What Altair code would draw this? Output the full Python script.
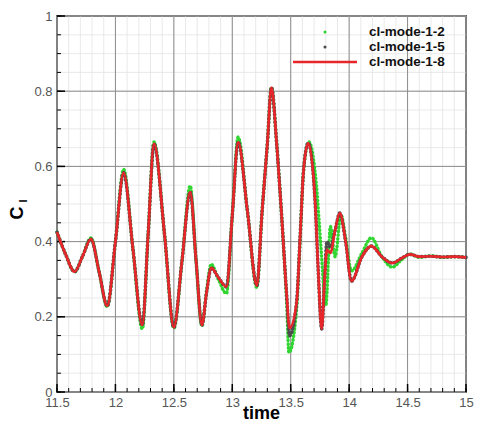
import altair as alt
import pandas as pd

# ---- data ----
time_main = [11.50, 11.575, 11.65, 11.72, 11.79, 11.86, 11.93, 12.00, 12.07, 12.15,
             12.23, 12.28, 12.33, 12.42, 12.50, 12.57, 12.64, 12.69, 12.74, 12.78,
             12.82, 12.88, 12.95, 13.00, 13.05, 13.13, 13.21, 13.255, 13.30, 13.335,
             13.38, 13.42, 13.465, 13.49, 13.55, 13.58, 13.61, 13.65, 13.71, 13.735,
             13.765, 13.79, 13.81, 13.84, 13.88, 13.92, 13.97, 14.02, 14.11, 14.19,
             14.28, 14.37, 14.45, 14.52, 14.60, 14.70, 14.80, 14.90, 15.00]

cl_mode_1_8 = [0.425, 0.365, 0.32, 0.362, 0.407, 0.32, 0.229, 0.40, 0.583, 0.38,
               0.178, 0.42, 0.66, 0.42, 0.172, 0.35, 0.532, 0.35, 0.178, 0.265,
               0.33, 0.305, 0.28, 0.47, 0.665, 0.48, 0.283, 0.48, 0.66, 0.81,
               0.66, 0.48, 0.26, 0.17, 0.237, 0.41, 0.59, 0.662, 0.50, 0.325,
               0.168, 0.30, 0.378, 0.37, 0.43, 0.476, 0.40, 0.295, 0.36, 0.388,
               0.36, 0.343, 0.356, 0.366, 0.36, 0.361, 0.359, 0.36, 0.358]

cl_mode_1_5 = [0.425, 0.365, 0.32, 0.362, 0.407, 0.32, 0.229, 0.40, 0.583, 0.38,
               0.178, 0.42, 0.66, 0.42, 0.172, 0.35, 0.532, 0.35, 0.178, 0.265,
               0.33, 0.305, 0.28, 0.47, 0.665, 0.48, 0.283, 0.48, 0.66, 0.81,
               0.66, 0.48, 0.26, 0.15, 0.237, 0.41, 0.59, 0.662, 0.50, 0.325,
               0.168, 0.30, 0.40, 0.385, 0.43, 0.476, 0.40, 0.295, 0.36, 0.388,
               0.36, 0.343, 0.356, 0.366, 0.36, 0.361, 0.359, 0.36, 0.358]

time_green = [11.50, 11.575, 11.65, 11.72, 11.79, 11.86, 11.93, 12.00, 12.07, 12.15,
              12.23, 12.28, 12.33, 12.42, 12.50, 12.57, 12.64, 12.69, 12.74, 12.78,
              12.82, 12.88, 12.95, 13.00, 13.05, 13.13, 13.21, 13.255, 13.30, 13.335,
              13.38, 13.42, 13.465, 13.485, 13.55, 13.58, 13.61, 13.655, 13.72, 13.76,
              13.80, 13.84, 13.88, 13.93, 13.97, 14.02, 14.11, 14.19, 14.28, 14.37,
              14.45, 14.52, 14.60, 14.70, 14.80, 14.90, 15.00]

cl_mode_1_2 = [0.425, 0.365, 0.32, 0.362, 0.41, 0.32, 0.227, 0.40, 0.592, 0.38,
               0.168, 0.42, 0.665, 0.42, 0.17, 0.35, 0.548, 0.35, 0.175, 0.27,
               0.34, 0.30, 0.262, 0.47, 0.678, 0.48, 0.278, 0.48, 0.66, 0.81,
               0.66, 0.48, 0.24, 0.105, 0.22, 0.40, 0.59, 0.665, 0.55, 0.38,
               0.23, 0.44, 0.36, 0.47, 0.41, 0.322, 0.37, 0.41, 0.36, 0.332,
               0.352, 0.367, 0.358, 0.362, 0.358, 0.36, 0.358]

series_names = ["cl-mode-1-2", "cl-mode-1-5", "cl-mode-1-8"]
series_colors = ["#2fd62f", "#4d4d4d", "#e8262a"]

x_major = [11.5, 12, 12.5, 13, 13.5, 14, 14.5, 15]
y_major = [0, 0.2, 0.4, 0.6, 0.8, 1.0]
x_minor = [round(11.5 + 0.1 * i, 2) for i in range(36)]
y_minor = [round(0.05 * i, 2) for i in range(21)]

W, H = 409, 376
FONT = "Liberation Sans"

xs = alt.Scale(domain=[11.5, 15], nice=False, zero=False)
ys = alt.Scale(domain=[0, 1], nice=False, zero=False)
xaxis = alt.Axis(values=x_major, format="~g", grid=False, ticks=False, domain=False,
                 labelFontSize=13, labelColor="#555555", labelFont=FONT,
                 labelPadding=4, labelFlush=False, title=None)
yaxis = alt.Axis(values=y_major, format="~g", grid=False, ticks=False, domain=False,
                 labelFontSize=13, labelColor="#555555", labelFont=FONT,
                 labelPadding=5, labelFlush=False, title=None)
X = alt.X("x:Q", scale=xs, axis=xaxis)
Y = alt.Y("y:Q", scale=ys, axis=yaxis)

def vrules(vals, color, width):
    return alt.Chart(pd.DataFrame({"x": vals})).mark_rule(color=color, strokeWidth=width).encode(x=X)

def hrules(vals, color, width):
    return alt.Chart(pd.DataFrame({"y": vals})).mark_rule(color=color, strokeWidth=width).encode(y=Y)

grid_minor_v = vrules(x_minor, "#e3e3e3", 0.8)
grid_minor_h = hrules(y_minor, "#e3e3e3", 0.8)
grid_major_v = vrules(x_major, "#8c8c8c", 1)
grid_major_h = hrules(y_major, "#8c8c8c", 1)

tick_x_major = alt.Chart(pd.DataFrame({"x": x_major})).mark_rule(color="black", strokeWidth=1.5).encode(
    x=X, y=alt.value(H), y2=alt.value(H - 8))
tick_x_minor = alt.Chart(pd.DataFrame({"x": x_minor})).mark_rule(color="black", strokeWidth=1).encode(
    x=X, y=alt.value(H), y2=alt.value(H - 4))
tick_y_major = alt.Chart(pd.DataFrame({"y": y_major})).mark_rule(color="black", strokeWidth=1.5).encode(
    y=Y, x=alt.value(0), x2=alt.value(8))
tick_y_minor = alt.Chart(pd.DataFrame({"y": y_minor})).mark_rule(color="black", strokeWidth=1).encode(
    y=Y, x=alt.value(0), x2=alt.value(4))

df_g = pd.DataFrame({"x": time_green, "y": cl_mode_1_2})
df_k = pd.DataFrame({"x": time_main, "y": cl_mode_1_5})
df_r = pd.DataFrame({"x": time_main, "y": cl_mode_1_8})

line_g = alt.Chart(df_g).mark_line(color=series_colors[0], strokeWidth=3.4, strokeDash=[0.5, 3.2],
                                   strokeCap="round", interpolate="monotone").encode(x=X, y=Y)
line_k = alt.Chart(df_k).mark_line(color=series_colors[1], strokeWidth=3.6, strokeDash=[0.5, 3.2],
                                   strokeCap="round", interpolate="monotone").encode(x=X, y=Y)
line_r = alt.Chart(df_r).mark_line(color=series_colors[2], strokeWidth=2.6,
                                   interpolate="monotone").encode(x=X, y=Y)

# ---- legend (drawn by hand) ----
legend_layers = []
leg_y = [16, 31, 46]
for i, name in enumerate(series_names):
    d = pd.DataFrame({"label": [name]})
    legend_layers.append(
        alt.Chart(d).mark_text(align="left", baseline="middle", fontSize=13.5, fontWeight="bold",
                               font=FONT, color="#111111").encode(
            text="label:N", x=alt.value(312), y=alt.value(leg_y[i])))
    if i < 2:
        legend_layers.append(
            alt.Chart(d).mark_point(filled=True, size=10, opacity=1, color=series_colors[i]).encode(
                x=alt.value(268), y=alt.value(leg_y[i])))
    else:
        legend_layers.append(
            alt.Chart(d).mark_rule(color=series_colors[i], strokeWidth=2.6).encode(
                x=alt.value(236), x2=alt.value(300), y=alt.value(leg_y[i])))

# ---- axis titles ----
tdf = pd.DataFrame({"t": ["time"]})
x_title = alt.Chart(tdf).mark_text(fontSize=18, fontWeight="bold", font=FONT, color="black",
                                   baseline="alphabetic", align="center").encode(
    text="t:N", x=alt.value(W / 2), y=alt.value(H + 27))
cdf = pd.DataFrame({"t": ["C"]})
y_title_c = alt.Chart(cdf).mark_text(fontSize=18, fontWeight="bold", font=FONT, color="black",
                                     angle=270, baseline="middle", align="center").encode(
    text="t:N", x=alt.value(-39), y=alt.value(197))
ldf = pd.DataFrame({"t": ["l"]})
y_title_l = alt.Chart(ldf).mark_text(fontSize=11, fontWeight="bold", font=FONT, color="black",
                                     angle=270, baseline="middle", align="center").encode(
    text="t:N", x=alt.value(-33), y=alt.value(185))

chart = alt.layer(
    grid_minor_v, grid_minor_h, grid_major_v, grid_major_h,
    tick_x_minor, tick_x_major, tick_y_minor, tick_y_major,
    line_g, line_k, line_r,
    *legend_layers,
    x_title, y_title_c, y_title_l,
).properties(
    width=W, height=H,
    autosize=alt.AutoSizeParams(type="none"),
    padding={"left": 49, "top": 8, "right": 14, "bottom": 34},
).configure_view(stroke="black", strokeWidth=1.6)

chart.save("out.html", embed_options={"renderer": "svg", "actions": False})
